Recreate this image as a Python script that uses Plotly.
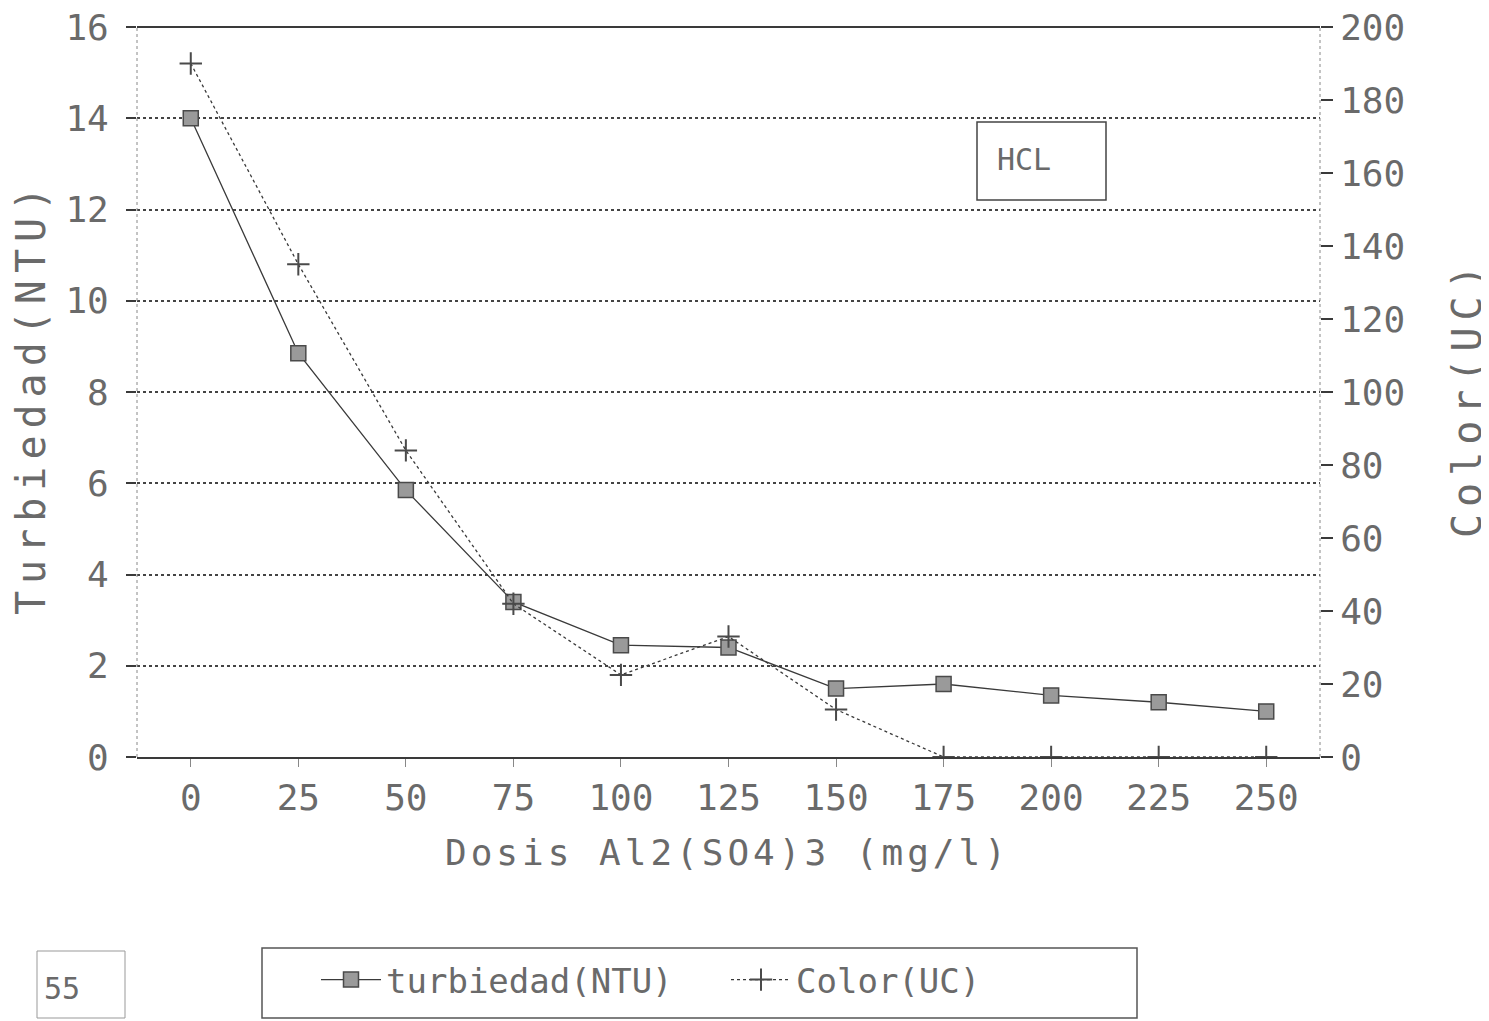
import plotly.graph_objects as go

dose = [0, 25, 50, 75, 100, 125, 150, 175, 200, 225, 250]
turbiedad = [14.0, 8.85, 5.85, 3.4, 2.45, 2.4, 1.5, 1.6, 1.35, 1.2, 1.0]
color_uc = [190, 135, 84, 42, 22.5, 33, 13, 0, 0, 0, 0]

left_ticks = [0, 2, 4, 6, 8, 10, 12, 14, 16]
right_ticks = [0, 20, 40, 60, 80, 100, 120, 140, 160, 180, 200]

FONT = "DejaVu Sans Mono"
TXT = "#6a6a6a"
INK = "#3a3a3a"

# page offset (default body margin) and figure size
OFF = 8
W, H = 1489 - OFF, 1021 - OFF
# plot area in page pixels
L, R, T, B = 137 - OFF, 1320 - OFF, 27 - OFF, 757 - OFF
PW, PH = R - L, B - T


def px(x):
    return (x - OFF - L) / PW


def py(y):
    return (B - (y - OFF)) / PH


def spaced(s, sp):
    return '<span style="letter-spacing:%dpx">%s</span>' % (sp, s)


fig = go.Figure()
fig.add_trace(go.Scatter(
    x=dose, y=turbiedad, name="turbiedad(NTU)", mode="lines+markers",
    line=dict(color=INK, width=1.3),
    marker=dict(symbol="square", size=15, color="#9a9a9a",
                line=dict(color="#4a4a4a", width=1.5)),
    yaxis="y"))
fig.add_trace(go.Scatter(
    x=dose, y=color_uc, name="Color(UC)", mode="lines+markers",
    line=dict(color=INK, width=1.3, dash="dot"),
    marker=dict(symbol="cross-thin", size=16, color=INK,
                line=dict(color="#4a4a4a", width=2)),
    yaxis="y2"))

fig.update_layout(
    width=W, height=H,
    margin=dict(l=L, r=W - R, t=T, b=H - B, autoexpand=False),
    paper_bgcolor="white", plot_bgcolor="white",
    font=dict(family=FONT, color=TXT, size=34),
    xaxis=dict(range=[-12.5, 262.5], tickvals=dose, ticktext=[str(d) for d in dose],
               showgrid=False, zeroline=False, showline=True, linecolor=INK, linewidth=2,
               ticks="outside", ticklen=8, tickcolor="#888", tickwidth=1,
               automargin=False, ticklabeloverflow="allow",
               tickfont=dict(size=36, color=TXT, family=FONT)),
    yaxis=dict(range=[0, 16], tickvals=left_ticks, showgrid=True,
               gridcolor="#444", griddash="dot", gridwidth=1.5,
               zeroline=False, showline=False, ticks="outside", ticklen=10,
               tickcolor=INK, tickwidth=1.5, automargin=False,
               ticklabeloverflow="allow", ticklabelstandoff=10,
               tickfont=dict(size=36, color=TXT, family=FONT)),
    yaxis2=dict(range=[0, 200], tickvals=right_ticks, overlaying="y", side="right",
                showgrid=False, zeroline=False, showline=False, ticks="outside",
                ticklen=12, tickcolor=INK, tickwidth=1.5, automargin=False,
                ticklabeloverflow="allow",
                tickfont=dict(size=36, color=TXT, family=FONT)),
    showlegend=True,
    legend=dict(orientation="h", x=px(316), y=py(951), xanchor="left", yanchor="top",
                borderwidth=0, bgcolor="rgba(0,0,0,0)",
                font=dict(size=34, color=TXT, family=FONT),
                itemwidth=60, entrywidthmode="pixels", entrywidth=335),
    shapes=[
        dict(type="line", xref="paper", yref="paper", x0=0, x1=1, y0=1, y1=1,
             line=dict(color=INK, width=2)),
        dict(type="line", xref="paper", yref="paper", x0=0, x1=0, y0=0, y1=1,
             line=dict(color="#888", width=1, dash="dot")),
        dict(type="line", xref="paper", yref="paper", x0=1, x1=1, y0=0, y1=1,
             line=dict(color="#888", width=1, dash="dot")),
        # legend frame
        dict(type="rect", xref="paper", yref="paper", x0=px(262), x1=px(1137),
             y0=py(1018), y1=py(948), line=dict(color="#555", width=1.5)),
        # HCL frame
        dict(type="rect", xref="paper", yref="paper", x0=px(977), x1=px(1106),
             y0=py(200), y1=py(122), line=dict(color="#444", width=1.5),
             fillcolor="white", layer="above"),
        # page number frame
        dict(type="rect", xref="paper", yref="paper", x0=px(37), x1=px(125),
             y0=py(1018), y1=py(951), line=dict(color="#999", width=1)),
    ],
    annotations=[
        dict(text=spaced("Turbiedad(NTU)", 7), xref="paper", yref="paper",
             x=px(31), y=py(398),
             textangle=-90, showarrow=False, xanchor="center", yanchor="middle",
             font=dict(size=40, color=TXT, family=FONT)),
        dict(text=spaced("Color(UC)", 7), xref="paper", yref="paper",
             x=px(1467), y=py(398),
             textangle=-90, showarrow=False, xanchor="center", yanchor="middle",
             font=dict(size=40, color=TXT, family=FONT)),
        dict(text=spaced("Dosis Al2(SO4)3 (mg/l)", 4), xref="paper", yref="paper",
             x=px(727), y=py(852),
             showarrow=False, xanchor="center", yanchor="middle",
             font=dict(size=36, color=TXT, family=FONT)),
        dict(text="HCL", xref="paper", yref="paper", x=px(995), y=py(160),
             showarrow=False, xanchor="left", yanchor="middle",
             font=dict(size=30, color=TXT, family=FONT)),
        dict(text="55", xref="paper", yref="paper", x=px(42), y=py(988),
             showarrow=False, xanchor="left", yanchor="middle",
             font=dict(size=30, color=TXT, family=FONT)),
    ],
)

fig.write_html("out.html")
